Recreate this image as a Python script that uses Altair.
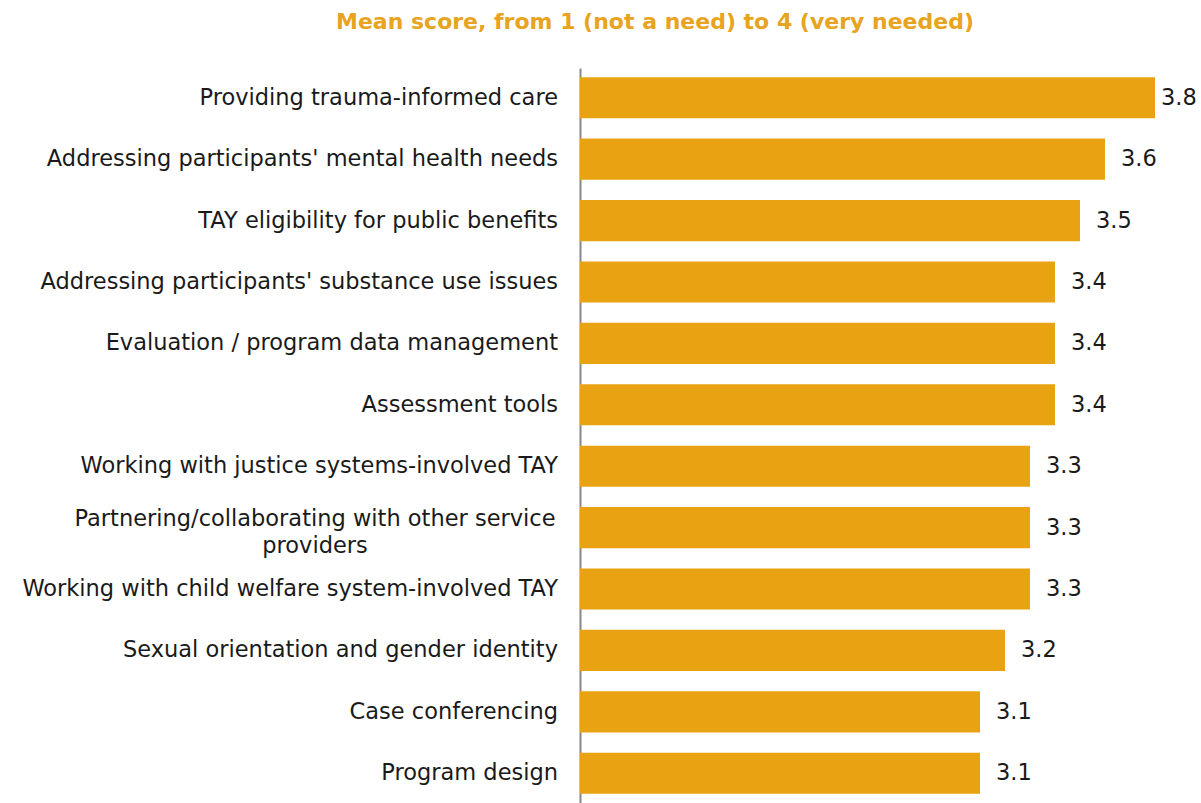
import altair as alt
import pandas as pd

categories = [
    "Providing trauma-informed care",
    "Addressing participants' mental health needs",
    "TAY eligibility for public benefits",
    "Addressing participants' substance use issues",
    "Evaluation / program data management",
    "Assessment tools",
    "Working with justice systems-involved TAY",
    "Partnering/collaborating with other service\nproviders",
    "Working with child welfare system-involved TAY",
    "Sexual orientation and gender identity",
    "Case conferencing",
    "Program design",
]
values = [3.8, 3.6, 3.5, 3.4, 3.4, 3.4, 3.3, 3.3, 3.3, 3.2, 3.1, 3.1]
multiline = [False, False, False, False, False, False, False, True, False, False, False, False]

df = pd.DataFrame({"cat": categories, "val": values, "multi": multiline})

FONT = "DejaVu Sans"
BAR = "#E9A212"
TXT = "#1a1a1a"
FS = 22.5

y_enc = alt.Y(
    "cat:N",
    sort=categories,
    scale=alt.Scale(paddingInner=0.33, paddingOuter=0.15),
    axis=alt.Axis(labels=False, ticks=False, title=None, grid=False,
                  domain=True, domainColor="#888888", domainWidth=2),
)
x_scale = alt.Scale(domain=[1.5, 3.9], nice=False, zero=False)

base = alt.Chart(df)

bars = base.mark_bar(color=BAR).encode(
    y=y_enc,
    x=alt.X("val:Q", scale=x_scale, axis=None),
    x2=alt.datum(1.5),
)

# label sits just past the bar end; the longest bar's label is pulled in to fit
vals = base.transform_calculate(
    lx="datum.val + (datum.val > 3.7 ? 0.024 : 0.064)"
).mark_text(align="left", baseline="middle", fontSize=FS,
            font=FONT, color=TXT).encode(
    y=alt.Y("cat:N", sort=categories),
    x=alt.X("lx:Q", scale=x_scale),
    text=alt.Text("val:Q", format=".1f"),
)

labels_single = base.transform_filter("!datum.multi").mark_text(
    align="right", baseline="middle", fontSize=FS, font=FONT, color=TXT
).encode(
    y=alt.Y("cat:N", sort=categories),
    x=alt.value(-22),
    text="cat:N",
)

labels_multi = base.transform_filter("datum.multi").mark_text(
    align="center", baseline="middle", fontSize=FS, font=FONT, color=TXT,
    lineBreak="\n", lineHeight=27, dy=-9
).encode(
    y=alt.Y("cat:N", sort=categories),
    x=alt.value(-265),
    text="cat:N",
)

chart = alt.layer(bars, vals, labels_single, labels_multi).properties(
    width=600,
    height=735,
    autosize=alt.AutoSizeParams(type="none"),
    padding={"left": 580, "top": 68, "right": 21, "bottom": 0},
    title=alt.TitleParams(
        "Mean score, from 1 (not a need) to 4 (very needed)",
        font=FONT, fontSize=22, fontWeight="bold", color="#E8A320",
        anchor="middle", frame="group", dx=-225, offset=34,
    ),
).configure_view(stroke=None)

chart.save("out.html", embed_options={"renderer": "svg", "actions": False})
